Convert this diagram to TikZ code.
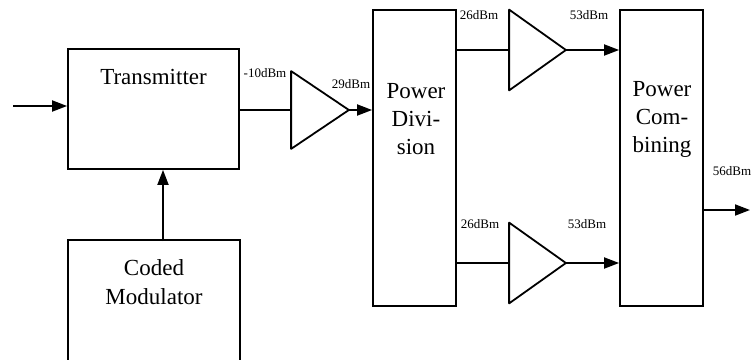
\documentclass[tikz,border=0pt]{standalone}
\usepackage{fontspec}
\setmainfont{Liberation Serif}
\usetikzlibrary{arrows.meta}
\begin{document}
\begin{tikzpicture}[x=1pt,y=-1pt, line width=1.8pt,
  blk/.style={draw, inner sep=0},
  big/.style={font=\fontsize{23}{28}\selectfont, align=center, inner sep=0},
  lbl/.style={font=\fontsize{13}{15}\selectfont, inner sep=0},
  amp/.style={minimum width=55pt, minimum height=78pt, inner sep=0},
  con/.style={-{Triangle[length=15pt,width=11pt]}}]
\useasboundingbox (0,0) rectangle (751,359);
\clip (0,0) rectangle (751,359);
% blocks
\node[blk, minimum width=171pt, minimum height=120pt] (tx) at (153.5,109) {};
\node[big] (txl) at (153.5,77) {Transmitter};
\node[minimum width=170pt, minimum height=130pt, inner sep=0] (cm) at (154,306) {};
\draw (cm.south west) -- (cm.north west) -- (cm.north east) -- (cm.south east);
\node[big] (cml) at (154,282) {Coded\\[1pt]Modulator};
\node[blk, minimum width=83pt, minimum height=296pt] (pd) at (414.5,158) {};
\node[big] (pdl) at (416,119) {Power\\Divi-\\sion};
\node[blk, minimum width=83pt, minimum height=296pt] (pc) at (661.5,158) {};
\node[big] (pcl) at (662,119) {Power\\Com-\\bining};
% amplifiers
\node[amp, minimum height=76pt, minimum width=56pt] (a1) at (320,110) {};
\node[amp, minimum height=79pt] (a2) at (537.5,50) {};
\node[amp, minimum height=79pt] (a3) at (537.5,263) {};
\foreach \a in {a1,a2,a3}
  \draw[line join=round] (\a.north west) -- (\a.east) -- (\a.south west) -- cycle;
% connectors
\coordinate (in) at (13,106);
\draw[con] (in) -- (in -| tx.west);
\coordinate (mt) at (163,241);
\draw[con] (mt) -- (mt |- tx.south);
\draw (tx.east |- a1.west) -- (a1.west);
\draw[con] (a1.east) -- (a1.east -| pd.west);
\draw (pd.east |- a2.west) -- (a2.west);
\draw[con] (a2.east) -- (a2.east -| pc.west);
\draw (pd.east |- a3.west) -- (a3.west);
\draw[con] (a3.east) -- (a3.east -| pc.west);
\coordinate (out) at (750,210);
\draw[con] (pc.east |- out) -- (out);
% labels
\node[lbl] (l1) at (265,73) {-10dBm};
\node[lbl] (l2) at (351,84) {29dBm};
\node[lbl] (l3) at (479,15) {26dBm};
\node[lbl] (l4) at (589,15) {53dBm};
\node[lbl] (l5) at (480,224) {26dBm};
\node[lbl] (l6) at (587,224) {53dBm};
\node[lbl] (l7) at (732,171) {56dBm};
\end{tikzpicture}
\end{document}
